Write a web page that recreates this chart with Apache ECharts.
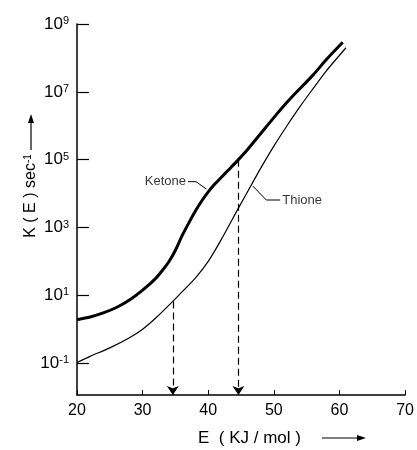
<!DOCTYPE html>
<html>
<head>
<meta charset="utf-8">
<script src="https://cdn.jsdelivr.net/npm/echarts@6/dist/echarts.min.js"></script>
<style>
  html, body { margin: 0; padding: 0; background: #fff; }
  #main { width: 417px; height: 450px; }
</style>
</head>
<body>
<div id="main"></div>
<script>
// values; K is given as its exponent (log10 K)
var ketoneE = [20, 22, 24, 26, 28, 30, 32, 33, 34, 35, 36, 37, 38, 39, 40, 41, 42, 43, 44.6, 46, 48, 50, 52, 54, 56, 58, 60.5];
var ketoneLogK = [0.28, 0.36, 0.48, 0.64, 0.86, 1.15, 1.5, 1.73, 1.99, 2.33, 2.75, 3.12, 3.47, 3.78, 4.05, 4.28, 4.48, 4.68, 5.0, 5.3, 5.77, 6.24, 6.69, 7.1, 7.5, 7.95, 8.46];
var thioneE = [20, 22, 25, 28, 30, 32, 34.6, 36, 38, 40, 42, 44.6, 46.7, 48, 50, 52, 54, 56, 58, 61];
var thioneLogK = [-0.98, -0.8, -0.55, -0.25, 0.0, 0.33, 0.82, 1.1, 1.5, 2.0, 2.65, 3.57, 4.3, 4.75, 5.4, 6.0, 6.57, 7.1, 7.62, 8.3];

var yTickExp = [-1, 1, 3, 5, 7, 9];
var xTicks = [20, 30, 40, 50, 60, 70];

// dashed drop lines (E, from logK)
var dropE = [34.6, 44.6];
var dropFrom = [0.82, 5.0];

// curve labels and their leader lines
var labelNames = ['Ketone', 'Thione'];
var labelAnchors = [[36.92, 4.35], [50.97, 3.81]];
var leaderPaths = [
  [[36.92, 4.35], [38.13, 4.35], [39.75, 4.13]],
  [[50.97, 3.81], [48.85, 3.81], [46.8, 4.22]]
];

var yMin = -1.94, yMax = 9;
var font = '"Liberation Sans", Arial, sans-serif';

function pairs(xs, ys) {
  return xs.map(function (x, i) { return [x, ys[i]]; });
}

var myChart = echarts.init(document.getElementById('main'));
myChart.setOption({
  animation: false,
  grid: { left: 77, right: 9, top: 24, bottom: 55 },
  xAxis: {
    type: 'value',
    min: 20, max: 70, interval: 10,
    axisLine: { onZero: false, lineStyle: { color: '#000', width: 1.5 } },
    axisTick: { inside: true, length: 5, lineStyle: { color: '#000', width: 1 } },
    axisLabel: { color: '#000', fontSize: 16, fontFamily: font, margin: 8 },
    splitLine: { show: false }
  },
  yAxis: {
    type: 'value',
    min: yMin, max: yMax,
    axisLine: { show: true, onZero: false, lineStyle: { color: '#000', width: 1.5 } },
    axisTick: { inside: true, length: 12, customValues: yTickExp, lineStyle: { color: '#000', width: 1.2 } },
    axisLabel: {
      customValues: yTickExp,
      margin: 8,
      color: '#000',
      fontFamily: font,
      formatter: function (v) { return '{b|10}{s|' + v + '}'; },
      rich: {
        b: { fontSize: 17, fontFamily: font, color: '#000' },
        s: { fontSize: 11, fontFamily: font, color: '#000', verticalAlign: 'top' }
      }
    },
    splitLine: { show: false }
  },
  graphic: [
    {
      type: 'text',
      x: 31, y: 196,
      rotation: Math.PI / 2,
      style: {
        text: '{a|K ( E ) sec}{s|-1}',
        align: 'center', verticalAlign: 'middle',
        rich: {
          a: { fontSize: 16, fontFamily: font, fill: '#000' },
          s: { fontSize: 10, fontFamily: font, fill: '#000', verticalAlign: 'top' }
        }
      }
    },
    { type: 'line', shape: { x1: 31, y1: 150, x2: 31, y2: 120 }, style: { stroke: '#000', lineWidth: 1.2 } },
    { type: 'polygon', shape: { points: [[31, 114], [28, 123], [34, 123]] }, style: { fill: '#000' } },
    {
      type: 'text',
      x: 198, y: 438,
      style: {
        text: 'E  ( KJ / mol )',
        fontSize: 17, fontFamily: font, fill: '#000',
        align: 'left', verticalAlign: 'middle'
      }
    },
    { type: 'line', shape: { x1: 322, y1: 438, x2: 358, y2: 438 }, style: { stroke: '#000', lineWidth: 1.2 } },
    { type: 'polygon', shape: { points: [[366, 438], [357, 435], [357, 441]] }, style: { fill: '#000' } }
  ],
  series: [
    {
      name: 'Ketone', type: 'line', smooth: 0.25, symbol: 'none',
      lineStyle: { color: '#000', width: 3 },
      data: pairs(ketoneE, ketoneLogK), z: 3
    },
    {
      name: 'Thione', type: 'line', smooth: 0.25, symbol: 'none',
      lineStyle: { color: '#000', width: 1.2 },
      data: pairs(thioneE, thioneLogK), z: 3
    },
    {
      type: 'lines', coordinateSystem: 'cartesian2d',
      symbol: ['none', 'arrow'], symbolSize: [6, 9],
      lineStyle: { color: '#000', width: 1.2, type: [7, 4], opacity: 1 },
      data: dropE.map(function (e, i) {
        return { coords: [[e, dropFrom[i]], [e, yMin]] };
      })
    },
    {
      type: 'lines', coordinateSystem: 'cartesian2d', polyline: true,
      symbol: ['none', 'arrow'], symbolSize: 6,
      lineStyle: { color: '#000', width: 1, opacity: 1, curveness: 0 },
      data: leaderPaths.map(function (p) { return { coords: p }; })
    },
    {
      type: 'scatter', symbolSize: 0,
      label: {
        show: true, color: '#000', fontSize: 13, fontFamily: font, distance: 2,
        formatter: function (p) { return labelNames[p.dataIndex]; }
      },
      data: labelAnchors.map(function (a, i) {
        return { value: a, label: { position: i === 0 ? 'left' : 'right' } };
      })
    }
  ]
});
</script>
</body>
</html>
